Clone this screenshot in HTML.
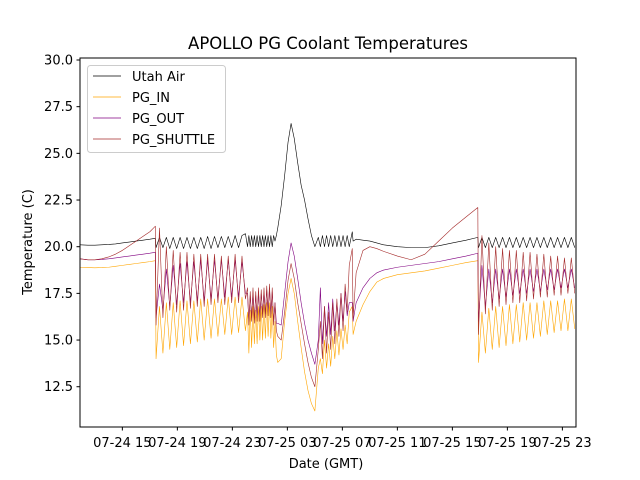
<!DOCTYPE html>
<html><head><meta charset="utf-8"><style>
body{margin:0;background:#fff}
svg{display:block;font-family:"DejaVu Sans","Liberation Sans",sans-serif}
</style></head><body>
<svg id="chart" width="640" height="480" viewBox="0 0 640 480">
<rect width="640" height="480" fill="#fff"/>
<text x="328" y="49" font-size="16.5" text-anchor="middle">APOLLO PG Coolant Temperatures</text>
<g id="plot"></g>
<g id="yaxis"></g>
<g id="xaxis"></g>
<text x="326" y="468" font-size="13" text-anchor="middle">Date (GMT)</text>
<text transform="translate(32,242) rotate(-90)" font-size="13" text-anchor="middle">Temperature (C)</text>
<rect x="80" y="58" width="496" height="369" fill="none" stroke="#000" stroke-width="1"/>
<g id="legend">
<rect x="87.5" y="65.5" width="138" height="87" rx="3" fill="#fff" fill-opacity="0.8" stroke="#ccc"/>
</g>
</svg>
<script>
const seriesNames = ["Utah Air","PG_IN","PG_OUT","PG_SHUTTLE"];
const seriesColors = ["#000000","#ffa500","#800080","#a52a2a"];
const yTicks = [12.5,15.0,17.5,20.0,22.5,25.0,27.5,30.0];
const xTickHours = [15,19,23,27,31,35,39,43,47];
const xTickLabels = ["07-24 15","07-24 19","07-24 23","07-25 03","07-25 07","07-25 11","07-25 15","07-25 19","07-25 23"];
const hours = [11.92,12.5,13,13.5,14,14.5,15,15.5,16,16.5,17,17.4,
17.45,
17.7,17.95,18.2,18.45,18.7,18.95,19.2,19.45,19.7,19.95,20.2,20.45,20.7,20.95,21.2,21.45,21.7,21.95,22.2,22.45,22.7,22.95,23.2,23.45,23.7,23.95,
24.1,24.2,24.3,24.4,24.5,24.6,24.7,24.8,24.9,25.0,25.1,25.2,25.3,25.4,25.5,25.6,25.7,25.8,25.9,26.0,26.1,26.2,
26.3,26.55,26.8,27.05,27.27,27.5,27.75,28.0,28.25,28.5,28.75,29.0,29.25,
29.4,29.55,29.7,29.85,30.0,30.15,30.3,30.45,30.6,30.75,30.9,31.05,31.2,31.35,31.5,
31.72,31.78,
32.0,32.5,33,33.5,34,35,36,37,38,39,40,40.85,
40.9,
41.15,41.4,41.65,41.9,42.15,42.4,42.65,42.9,43.15,43.4,43.65,43.9,44.15,44.4,44.65,44.9,45.15,45.4,45.65,45.9,46.15,46.4,46.65,46.9,47.15,47.4,47.65,47.9];
const utahAir = [20.1,20.08,20.08,20.1,20.12,20.15,20.2,20.25,20.3,20.35,20.4,20.45,
19.95,
20.5,19.95,20.5,19.9,20.5,19.9,20.5,19.9,20.5,19.9,20.5,19.9,20.5,19.9,20.55,19.9,20.55,19.95,20.55,19.95,20.55,19.95,20.6,19.95,20.6,20.7,
20.0,20.6,20.0,20.6,20.0,20.6,20.0,20.6,20.0,20.6,20.0,20.6,20.0,20.6,20.0,20.6,20.0,20.6,20.0,20.6,20.3,20.6,
21.0,22.2,23.8,25.6,26.6,25.8,24.5,23.3,22.5,21.5,20.6,20.0,20.5,
20.0,20.6,20.0,20.6,20.0,20.6,20.0,20.6,20.0,20.6,20.0,20.6,20.0,20.6,20.0,
20.8,20.3,
20.4,20.35,20.3,20.2,20.1,20.0,19.95,19.95,20.05,20.2,20.35,20.5,
19.95,
20.5,19.95,20.5,19.95,20.5,19.95,20.5,19.95,20.5,19.95,20.5,19.95,20.5,19.95,20.5,19.95,20.5,19.95,20.5,19.95,20.5,19.95,20.5,19.95,20.5,19.95,20.5,19.95];
const pgIn = [18.9,18.88,18.87,18.88,18.9,18.95,19.0,19.05,19.1,19.15,19.2,19.25,
14.0,
16.8,14.3,17.0,14.5,17.0,14.6,17.1,14.7,17.1,14.8,17.1,14.9,17.2,15.0,17.2,15.1,17.2,15.2,17.2,15.3,17.3,15.3,17.3,15.4,17.3,15.5,
16.5,14.3,16.6,14.6,16.8,14.8,16.6,14.8,16.8,15.0,16.8,15.0,16.9,15.1,17.0,15.2,17.0,15.1,16.8,14.6,16.0,14.2,
13.8,14.0,16.0,17.5,18.3,17.5,16.0,14.6,13.3,12.3,11.6,11.2,13.5,
14.0,13.2,15.0,13.5,14.8,13.6,15.2,14.0,15.5,14.2,15.6,14.5,15.8,14.8,16.5,
16.8,15.3,
16.0,16.9,17.6,18.1,18.3,18.5,18.6,18.7,18.85,19.0,19.15,19.25,
13.8,
16.5,14.3,16.7,14.5,16.8,14.6,16.8,14.7,16.9,14.8,16.9,14.9,17.0,15.0,17.0,15.1,17.0,15.2,17.1,15.3,17.1,15.4,17.1,15.5,17.2,15.5,17.2,15.6];
const pgOut = [19.35,19.3,19.3,19.32,19.35,19.4,19.45,19.5,19.55,19.6,19.65,19.7,
16.2,
18.0,16.6,18.8,16.8,19.0,16.9,19.1,17.0,19.2,17.0,19.2,17.1,19.3,17.1,19.3,17.2,19.3,17.2,19.3,17.3,19.3,17.3,19.3,17.3,19.2,17.5,
17.5,16.0,17.4,16.2,17.5,16.1,17.4,16.2,17.6,16.3,17.5,16.4,17.6,16.4,17.7,16.5,17.8,16.4,17.6,16.0,17.0,15.9,
15.9,15.8,17.5,19.2,20.2,19.5,18.3,17.0,15.9,15.0,14.3,13.7,15.0,
17.8,14.8,16.8,15.2,17.0,15.3,17.2,15.5,17.0,15.8,17.5,16.0,17.6,16.3,17.0,
17.0,16.0,
17.0,17.8,18.3,18.6,18.75,18.9,19.0,19.1,19.2,19.35,19.5,19.65,
16.0,
19.0,16.8,18.8,17.0,18.8,17.2,18.8,17.3,18.8,17.4,18.8,17.5,18.8,17.5,18.8,17.6,18.8,17.6,18.8,17.7,18.8,17.7,18.8,17.8,18.8,17.8,18.8,17.8];
const pgShuttle = [19.35,19.3,19.3,19.35,19.45,19.6,19.8,20.05,20.3,20.55,20.8,21.1,
15.8,
21.0,16.2,20.0,16.6,19.8,16.5,19.7,16.6,19.7,16.7,19.6,16.8,19.6,16.8,19.6,16.9,19.6,17.0,19.5,16.9,19.5,17.0,19.6,17.0,19.5,17.2,
17.8,15.8,17.6,16.0,17.8,15.9,17.6,16.0,17.8,16.0,17.7,16.2,17.8,16.2,17.9,16.3,18.0,16.2,17.8,15.8,17.0,15.5,
15.2,15.0,16.5,18.2,19.1,18.3,17.0,15.9,14.8,13.8,13.0,12.5,14.5,
16.0,14.0,16.8,14.3,16.5,14.5,17.0,14.8,17.2,15.2,17.5,15.5,18.0,16.5,19.0,
19.9,16.2,
18.6,19.8,20.0,19.9,19.75,19.5,19.3,19.6,20.3,21.0,21.6,22.1,
15.3,
20.6,16.4,20.2,16.6,20.0,16.8,19.9,16.9,19.8,17.0,19.8,17.0,19.7,17.1,19.7,17.2,19.6,17.3,19.6,17.3,19.5,17.4,19.5,17.4,19.4,17.5,19.4,17.5];
const allSeries = [utahAir,pgIn,pgOut,pgShuttle];

const NS="http://www.w3.org/2000/svg";
const X0=80,X1=576,Y0=58,Y1=427;
const H0=11.92,H1=47.99;
function xScale(h){return X0+(h-H0)/(H1-H0)*(X1-X0);}
function yScale(v){return 60+(30-v)*18.67;}
const plot=document.getElementById('plot');
const yaxis=document.getElementById('yaxis');
const xaxis=document.getElementById('xaxis');
const legend=document.getElementById('legend');

yTicks.forEach(t=>{
  const y=yScale(t);
  const l=document.createElementNS(NS,'line');
  l.setAttribute('x1',X0-3.5);l.setAttribute('x2',X0);l.setAttribute('y1',y);l.setAttribute('y2',y);l.setAttribute('stroke','#000');
  
  
  yaxis.appendChild(l);
  const tx=document.createElementNS(NS,'text');
  tx.setAttribute('x',X0-7);tx.setAttribute('y',y+4.5);tx.setAttribute('font-size','13');tx.setAttribute('text-anchor','end');
  tx.textContent=t.toFixed(1);
  
  
  yaxis.appendChild(tx);
});
xTickHours.forEach((h,i)=>{
  const x=xScale(h);
  const l=document.createElementNS(NS,'line');
  l.setAttribute('x1',x);l.setAttribute('x2',x);l.setAttribute('y1',Y1);l.setAttribute('y2',Y1+3.5);l.setAttribute('stroke','#000');
  
  
  xaxis.appendChild(l);
  const tx=document.createElementNS(NS,'text');
  tx.setAttribute('x',x);tx.setAttribute('y',Y1+20);tx.setAttribute('font-size','13');tx.setAttribute('text-anchor','middle');
  tx.textContent=xTickLabels[i];
  
  
  xaxis.appendChild(tx);
});
allSeries.forEach((vals,si)=>{
  const p=document.createElementNS(NS,'polyline');
  p.setAttribute('points',vals.map((v,i)=>xScale(hours[i]).toFixed(2)+','+yScale(v).toFixed(2)).join(' '));
  p.setAttribute('fill','none');p.setAttribute('stroke',seriesColors[si]);p.setAttribute('stroke-width','0.6');p.setAttribute('stroke-linejoin','round');
  
  
  plot.appendChild(p);
});
seriesNames.forEach((n,i)=>{
  const y=76+i*21;
  const g=document.createElementNS(NS,'g');
  
  
  const l=document.createElementNS(NS,'line');
  l.setAttribute('x1',93);l.setAttribute('x2',121);l.setAttribute('y1',y);l.setAttribute('y2',y);l.setAttribute('stroke',seriesColors[i]);l.setAttribute('stroke-width','0.8');
  
  
  const t=document.createElementNS(NS,'text');
  t.setAttribute('x',132);t.setAttribute('y',y+5);t.setAttribute('font-size','13');
  t.textContent=n;
  
  
  g.appendChild(l);g.appendChild(t);legend.appendChild(g);
});
</script>
</body></html>
